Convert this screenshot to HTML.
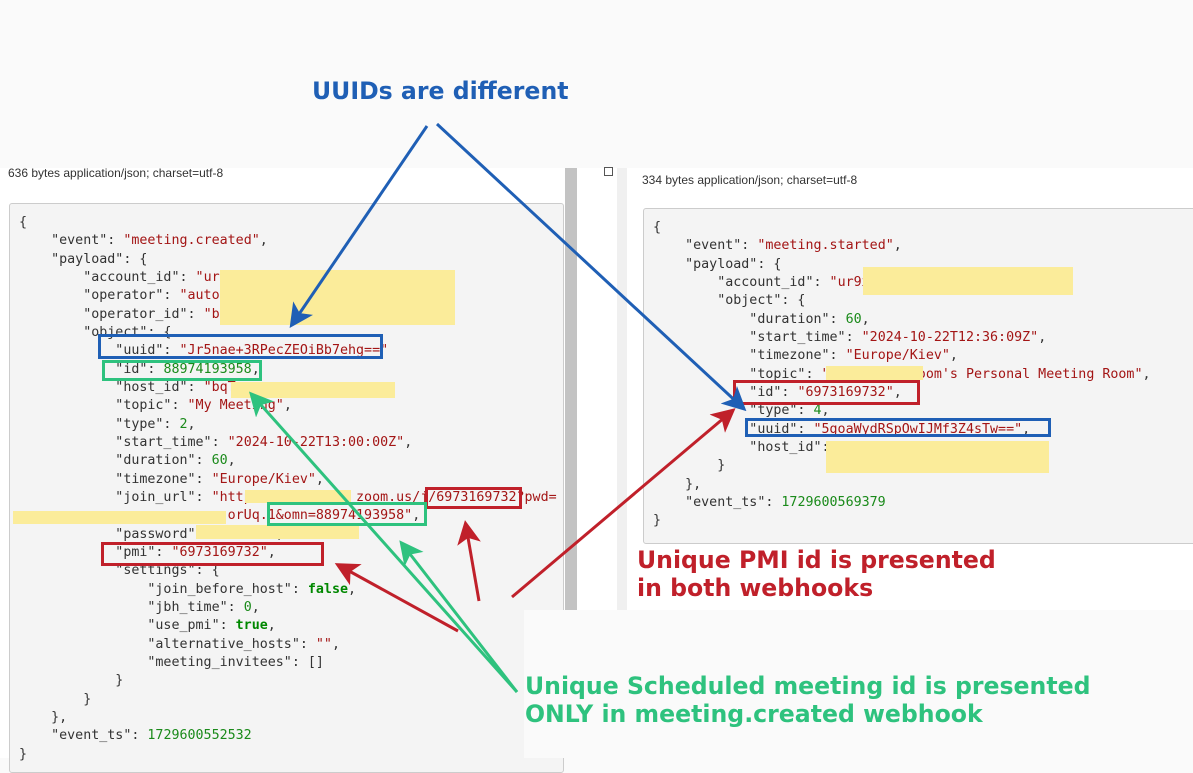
<!DOCTYPE html>
<html><head><meta charset="utf-8"><style>
*{margin:0;padding:0;box-sizing:border-box}
body{width:1193px;height:758px;position:relative;overflow:hidden;background:#fafafa;font-family:"Liberation Sans",sans-serif}
.a{position:absolute}
.code{font-family:"DejaVu Sans Mono","Liberation Mono",monospace;font-size:13.33px;line-height:18.33px;white-space:pre;color:#333}
.s{color:#a31515}.n{color:#1a8a1a}.b{color:#080;font-weight:bold}
.hl{position:absolute;background:#fbec9a}
.box{position:absolute;border:3px solid}
.lbl{position:absolute;font-family:"DejaVu Sans",sans-serif;font-weight:bold;font-size:23.6px;line-height:28px;white-space:nowrap}
</style></head><body>
<div class="a" style="left:0;top:168px;width:565px;height:590px;background:#fff"></div>
<div class="a" style="left:8px;top:166px;font-size:12px;color:#333">636 bytes application/json; charset=utf-8</div>
<div class="a" style="left:9px;top:203px;width:555px;height:570px;background:#f4f4f4;border:1px solid #ccc;border-radius:3px"></div>
<div class="a" style="left:565px;top:168px;width:12px;height:442px;background:#c3c3c3"></div>
<div class="a" style="left:577px;top:168px;width:50px;height:442px;background:#fff"></div>
<div class="a" style="left:617px;top:168px;width:10px;height:442px;background:#f0f0f0"></div>
<div class="a" style="left:604px;top:167px;width:9px;height:9px;border:1px solid #555;background:#fff"></div>
<div class="a" style="left:627px;top:168px;width:566px;height:442px;background:#fff"></div>
<div class="a" style="left:642px;top:173px;font-size:12px;color:#333">334 bytes application/json; charset=utf-8</div>
<div class="a" style="left:643px;top:208px;width:560px;height:336px;background:#f4f4f4;border:1px solid #ccc;border-radius:3px"></div>

<div class="a code" style="left:19px;top:214px">{
    "event": <span class="s">"meeting.created"</span>,
    "payload": {
        "account_id": <span class="s">"ur9</span>
        "operator": <span class="s">"autom</span>
        "operator_id": <span class="s">"bq</span>
        "object": {
            "uuid": <span class="s">"Jr5nae+3RPecZEOiBb7ehg=="</span>
            "id": <span class="n">88974193958</span>,
            "host_id": <span class="s">"bqT</span>
            "topic": <span class="s">"My Meeting"</span>,
            "type": <span class="n">2</span>,
            "start_time": <span class="s">"2024-10-22T13:00:00Z"</span>,
            "duration": <span class="n">60</span>,
            "timezone": <span class="s">"Europe/Kiev"</span>,
            "join_url": <span class="s">"http             zoom.us/j/6973169732?pwd=</span>
<span class="s">                          orUq.1&amp;omn=88974193958"</span>,
            "password": <span class="s">"      "</span>,
            "pmi": <span class="s">"6973169732"</span>,
            "settings": {
                "join_before_host": <span class="b">false</span>,
                "jbh_time": <span class="n">0</span>,
                "use_pmi": <span class="b">true</span>,
                "alternative_hosts": <span class="s">""</span>,
                "meeting_invitees": []
            }
        }
    },
    "event_ts": <span class="n">1729600552532</span>
}</div>

<div class="a code" style="left:653px;top:219px">{
    "event": <span class="s">"meeting.started"</span>,
    "payload": {
        "account_id": <span class="s">"ur9x</span>
        "object": {
            "duration": <span class="n">60</span>,
            "start_time": <span class="s">"2024-10-22T12:36:09Z"</span>,
            "timezone": <span class="s">"Europe/Kiev"</span>,
            "topic": <span class="s">"           oom's Personal Meeting Room"</span>,
            "id": <span class="s">"6973169732"</span>,
            "type": <span class="n">4</span>,
            "uuid": <span class="s">"5goaWydRSpOwIJMf3Z4sTw=="</span>,
            "host_id":
        }
    },
    "event_ts": <span class="n">1729600569379</span>
}</div>

<div class="hl" style="left:220px;top:270px;width:235px;height:55px"></div>
<div class="hl" style="left:231px;top:382px;width:164px;height:16px"></div>
<div class="hl" style="left:245px;top:490px;width:106px;height:13px"></div>
<div class="hl" style="left:13px;top:511px;width:213px;height:13px"></div>
<div class="hl" style="left:196px;top:525px;width:163px;height:14px"></div>
<div class="hl" style="left:863px;top:267px;width:210px;height:28px"></div>
<div class="hl" style="left:826px;top:366px;width:97px;height:14px"></div>
<div class="hl" style="left:826px;top:441px;width:223px;height:32px"></div>

<div class="box" style="left:98px;top:334px;width:285px;height:25px;border-color:#1f5fb5"></div>
<div class="box" style="left:102px;top:360px;width:160px;height:21px;border-color:#2ec27e"></div>
<div class="box" style="left:425px;top:487px;width:97px;height:22px;border-color:#c0202a"></div>
<div class="box" style="left:267px;top:502px;width:160px;height:24px;border-color:#2ec27e"></div>
<div class="box" style="left:101px;top:542px;width:223px;height:24px;border-color:#c0202a"></div>
<div class="box" style="left:733px;top:380px;width:187px;height:25px;border-color:#c0202a"></div>
<div class="box" style="left:745px;top:418px;width:306px;height:19px;border-color:#1f5fb5"></div>

<div class="a" style="left:524px;top:610px;width:669px;height:148px;background:#fafafa"></div>

<svg class="a" style="left:0;top:0" width="1193" height="758">
<defs>
<marker id="mb" markerWidth="8" markerHeight="8" refX="6" refY="4" orient="auto" markerUnits="strokeWidth"><path d="M0,0 L8,4 L0,8 L2,4z" fill="#1f5fb5"/></marker>
<marker id="mr" markerWidth="8" markerHeight="8" refX="6" refY="4" orient="auto" markerUnits="strokeWidth"><path d="M0,0 L8,4 L0,8 L2,4z" fill="#c0202a"/></marker>
<marker id="mg" markerWidth="8" markerHeight="8" refX="6" refY="4" orient="auto" markerUnits="strokeWidth"><path d="M0,0 L8,4 L0,8 L2,4z" fill="#2ec27e"/></marker>
</defs>
<g stroke-width="3" fill="none">
<line x1="427" y1="126" x2="293" y2="323" stroke="#1f5fb5" marker-end="url(#mb)"/>
<line x1="437" y1="124" x2="742" y2="407" stroke="#1f5fb5" marker-end="url(#mb)"/>
<line x1="517" y1="692" x2="253" y2="396" stroke="#2ec27e" marker-end="url(#mg)"/>
<line x1="517" y1="692" x2="403" y2="545" stroke="#2ec27e" marker-end="url(#mg)"/>
<line x1="458" y1="631" x2="340" y2="566" stroke="#c0202a" marker-end="url(#mr)"/>
<line x1="479" y1="601" x2="466" y2="526" stroke="#c0202a" marker-end="url(#mr)"/>
<line x1="512" y1="597" x2="731" y2="412" stroke="#c0202a" marker-end="url(#mr)"/>
</g>
</svg>

<div class="lbl" style="left:312px;top:77px;color:#1f5fb5">UUIDs are different</div>
<div class="lbl" style="left:637px;top:546px;color:#c0202a">Unique PMI id is presented<br>in both webhooks</div>
<div class="lbl" style="left:525px;top:672px;color:#2ec27e">Unique Scheduled meeting id is presented<br>ONLY in meeting.created webhook</div>
</body></html>
